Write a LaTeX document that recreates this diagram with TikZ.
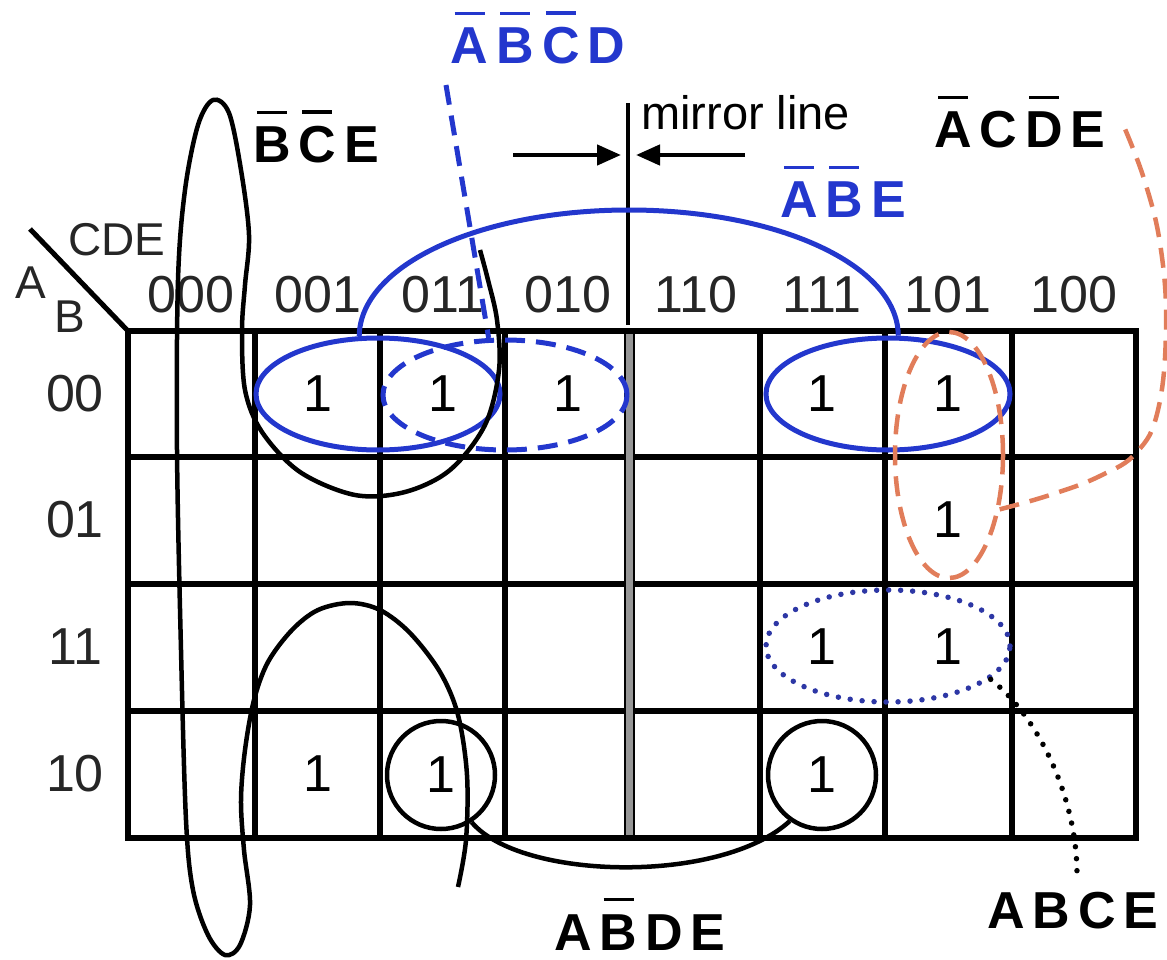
\documentclass[tikz,border=0pt]{standalone}
\usepackage{fontspec}
\setmainfont{Liberation Sans}
\usetikzlibrary{arrows.meta,shapes.geometric}
\definecolor{kblue}{RGB}{35,55,205}
\definecolor{kdot}{RGB}{45,55,165}
\definecolor{korange}{RGB}{225,125,90}
\definecolor{kgray}{RGB}{150,150,150}
\newcommand\obar[1]{\leavevmode\setbox0\hbox{#1}\rlap{\hbox to \wd0{\hss\raisebox{\dimexpr\ht0+13pt\relax}{\rule{0.8\wd0}{3.5pt}}\hss}}\box0}
\newcommand\lsp{\hspace{8pt}}
\begin{document}
\begin{tikzpicture}[x=1pt,y=-1pt,
  gridline/.style={line width=5.5pt},
  snake/.style={line width=4.5pt},
  bluel/.style={line width=5pt, draw=kblue},
  num/.style={font=\fontsize{52}{60}\selectfont, inner sep=0pt, text=black!85},
  one/.style={font=\fontsize{52}{60}\selectfont, inner sep=0pt},
  axl/.style={font=\fontsize{46}{54}\selectfont, inner sep=0pt, text=black!85},
  lbl/.style={font=\fontsize{52}{60}\selectfont\bfseries, inner sep=0pt, anchor=base},
  oval/.style={ellipse, inner sep=0pt, minimum width=#1},
  odash/.style={dash pattern=on 20pt off 11pt},
  odot/.style={dash pattern=on 0pt off 12pt, line cap=round}
]
\useasboundingbox (0,0) rectangle (1167,960);
% grid
\draw[gridline] (128,331) rectangle (1136,838);
\foreach \x in {255,380,505,760,885,1012} \draw[gridline] (\x,331) -- (\x,838);
\foreach \y in {457,584,711} \draw[gridline] (128,\y) -- (1136,\y);
\draw[line width=11pt] (629,331) -- (629,838);
\draw[line width=7pt, kgray] (629,334) -- (629,835);
\draw[line width=5pt] (30,229) -- (128,331);
% mirror line
\draw[line width=3.5pt] (628,103) -- (628,325);
\node[font=\fontsize{47}{54}\selectfont, inner sep=0pt, anchor=base west] (mirror) at (641,130) {mirror line};
\coordinate (arL) at (513,155);
\coordinate (arLt) at (621,155);
\coordinate (arR) at (745,155);
\coordinate (arRt) at (636,155);
\draw[line width=4.5pt, -{Triangle[length=24pt,width=20pt]}] (arL) -- (arLt);
\draw[line width=4.5pt, -{Triangle[length=24pt,width=20pt]}] (arR) -- (arRt);
% axis labels
\node[axl, anchor=base] (cde) at (117,255) {CDE};
\node[axl, anchor=base] (la) at (31,298) {A};
\node[axl, anchor=base] (lb) at (70,332) {B};
% column headers
\foreach \t/\x [count=\i] in {000/191,001/318,011/443,010/568,110/696,111/822,101/948,100/1074}
  \node[num, anchor=base] (h\i) at (\x,312) {\t};
\foreach \t/\y [count=\i] in {00/394,01/520,11/647,10/774}
  \node[num] (r\i) at (75,\y) {\t};
% ones
\node[one] (o1) at (318,394) {1};
\node[one] (o2) at (443,394) {1};
\node[one] (o3) at (568,394) {1};
\node[one] (o4) at (822,394) {1};
\node[one] (o5) at (948,394) {1};
\node[one] (o6) at (948,520) {1};
\node[one] (o7) at (822,647) {1};
\node[one] (o8) at (948,647) {1};
\node[one] (o9) at (318,774) {1};
% circled ones
\node[one, circle, draw, line width=4.5pt, minimum size=108pt] (c1) at (441,775) {1};
\node[one, circle, draw, line width=4.5pt, minimum size=108pt] (c2) at (822,775) {1};
\draw[snake] (c1.-57) .. controls (520,880) and (720,885) .. (c2.-125);
% blue groups
\node[oval=244pt, minimum height=112pt, bluel, draw] (e1) at (378,394) {};
\node[oval=244pt, minimum height=112pt, bluel, draw] (e2) at (888,394) {};
\draw[bluel] (e1.108) .. controls (360,265) and (480,210) .. (629,210) .. controls (778,210) and (898,265) .. (e2.80);
\node[oval=244pt, minimum height=110pt, bluel, draw, odash] (e3) at (505,395) {};
\coordinate (abcdEnd) at (446,85);
\draw[bluel, odash] (abcdEnd) -- (e3.106);
% orange group
\node[oval=108pt, minimum height=246pt, draw=korange, line width=4.5pt, odash] (e4) at (949,455) {};
\coordinate (acdeEnd) at (1122,122);
\draw[korange, line width=4.5pt, odash] plot[smooth, tension=0.7] coordinates {(e4.-47) (1050,495) (1100,476) (1137,452) (1158,410) (1166,330) (1161,250) (1145,182) (acdeEnd)};
% dotted group
\node[oval=244pt, minimum height=112pt, draw=kdot, line width=5.5pt, odot] (e5) at (888,646) {};
\coordinate (abceEnd) at (1077,874);
\draw[line width=5.5pt, odot] (e5.-18) .. controls (1040,718) and (1077,800) .. (abceEnd);
% long black snake
\draw[snake] plot[smooth, tension=0.55] coordinates {
 (458,887) (466,840) (467,775) (458,715) (440,672) (410,633) (380,610) (350,603) (318,610) (292,630) (268,662) (254,700) (245,750) (241,800) (244,850) (250,905) (240,945) (225,955) (208,935) (193,890) (186,820) (181,650) (177,450) (178,280) (185,190) (198,125) (213,100) (229,113) (241,170) (249,235) (245,285) (242,330) (245,390) (262,432) (300,472) (355,495) (405,492) (450,470) (485,425) (499,370) (497,320) (488,280) (480,250)};
% labels
\node[lbl, text=kblue] (labcd) at (538,64) {\obar{A}\lsp\obar{B}\lsp\obar{C}\lsp D};
\node[lbl] (lbce) at (316,163) {\obar{B}\lsp\obar{C}\lsp E};
\node[lbl, text=kblue] (labe) at (843,218) {\obar{A}\lsp\obar{B}\lsp E};
\node[lbl] (lacde) at (1020,148) {\obar{A}\lsp C\lsp\obar{D}\lsp E};
\node[lbl] (labde) at (640,950) {A\lsp\obar{B}\lsp D\lsp E};
\node[lbl] (labce) at (1073,928) {A\lsp B\lsp C\lsp E};
\end{tikzpicture}
\end{document}
